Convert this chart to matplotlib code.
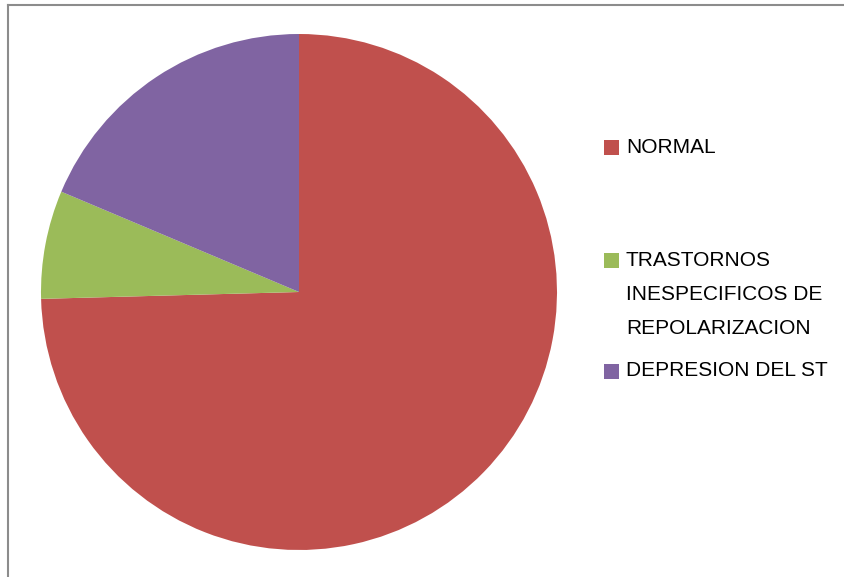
import matplotlib
matplotlib.use("Agg")
import matplotlib.pyplot as plt
from matplotlib.patches import Rectangle
from matplotlib.lines import Line2D

labels = ["NORMAL", "TRASTORNOS\nINESPECIFICOS DE\nREPOLARIZACION", "DEPRESION DEL ST"]
counts = [44, 4, 11]
colors = ["#C0504D", "#9BBB59", "#8064A2"]

W, H = 844, 577
fig = plt.figure(figsize=(W / 100, H / 100), dpi=100)
fig.patch.set_facecolor("white")

# chart frame (top and left edges visible)
fig.add_artist(Line2D([8 / W, 1], [1 - 5 / H, 1 - 5 / H], color="#8c8c8c", lw=1.5))
fig.add_artist(Line2D([8 / W, 8 / W], [0, 1 - 5 / H], color="#8c8c8c", lw=1.5))

# pie area: centre (299, 292), radius 258 px
cx, cy, r = 299, 292, 258
ax = fig.add_axes([(cx - r) / W, 1 - (cy + r) / H, 2 * r / W, 2 * r / H])
ax.pie(counts, colors=colors, startangle=90, counterclock=False,
       radius=1.0, wedgeprops=dict(linewidth=0))
ax.set_xlim(-1, 1)
ax.set_ylim(-1, 1)
ax.set_aspect("equal")
ax.axis("off")

# legend
font = dict(family="Liberation Sans", fontsize=15, color="black")
rows_y = [147, 260, 371]
for lab, col, y in zip(labels, colors, rows_y):
    fig.add_artist(Rectangle((604 / W, 1 - (y + 7.5) / H), 15 / W, 15 / H,
                             transform=fig.transFigure, facecolor=col, edgecolor="none"))
    lines = lab.split("\n")
    for i, line in enumerate(lines):
        fig.text(626 / W, 1 - (y + i * 34.5) / H, line, va="center", ha="left", **font)

fig.savefig("out.png", dpi=100)
